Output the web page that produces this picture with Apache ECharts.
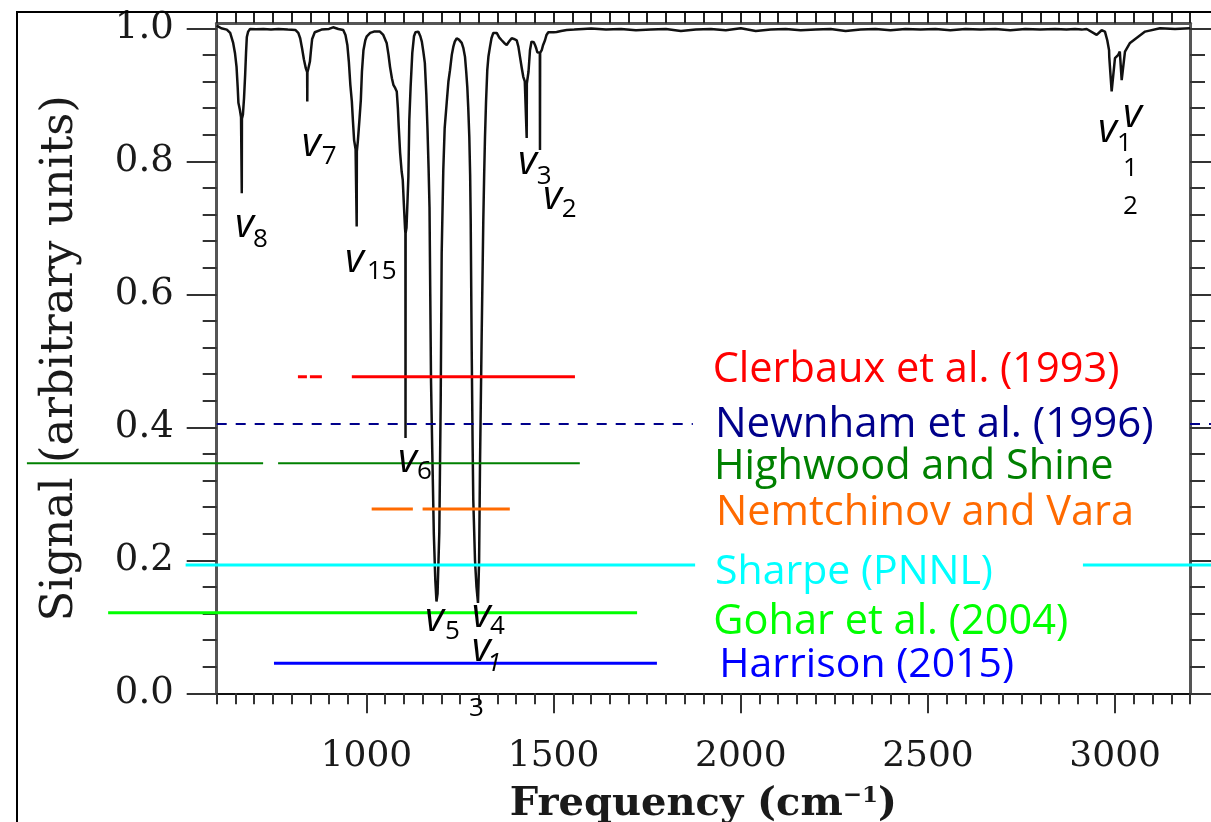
<!DOCTYPE html>
<html>
<head>
<meta charset="utf-8">
<script src="https://cdn.jsdelivr.net/npm/echarts@6/dist/echarts.min.js"></script>
<style>
html,body{margin:0;padding:0;background:#fff;}
#chart{width:1211px;height:822px;}
</style>
</head>
<body>
<div id="chart"></div>
<script>
// ---------- data ----------
const xMajorTicks = [1000, 1500, 2000, 2500, 3000];
const yMajorTicks = [0, 0.2, 0.4, 0.6, 0.8, 1.0];
const yMinorTicks = [0.04, 0.08, 0.12, 0.16, 0.24, 0.28, 0.32, 0.36, 0.44, 0.48, 0.52, 0.56,
                     0.64, 0.68, 0.72, 0.76, 0.84, 0.88, 0.92, 0.96];

// spectrum (frequency in cm^-1, signal)
const spectrumFreq = [
  600, 612, 627, 636, 644, 649, 653, 656, 658, 662, 665, 666.6, 667, 667.4, 670, 673, 676, 678.5, 680.5, 684, 689,
  705, 725, 745, 765, 790, 810, 818, 823, 828, 833, 838, 841.6, 842, 842.4, 845, 849, 852, 855, 862, 880, 900,
  911, 925, 938, 944, 949, 953, 957, 961, 964, 967, 971, 973.6, 974, 974.4, 977, 981, 985, 988, 992, 997,
  1001, 1010, 1020, 1036, 1045, 1054, 1059, 1063, 1068, 1072, 1077, 1081, 1084, 1086, 1090, 1094, 1097, 1100,
  1103, 1104.1, 1104.4, 1104.7, 1107, 1110, 1112, 1114.5, 1118, 1122.5, 1127, 1131, 1138.5, 1144, 1148, 1152,
  1156, 1160, 1163, 1166, 1168.5, 1170.5, 1172.5, 1176, 1180, 1184, 1187.1, 1190, 1194.6, 1198.4, 1201, 1205.3,
  1209, 1214.4, 1219, 1223.2, 1228, 1232, 1236, 1241, 1247, 1254.5, 1259, 1263.3, 1266.5, 1269.4, 1272, 1274.8,
  1277, 1278.5, 1281.2, 1283.5, 1285.4, 1290, 1294, 1298, 1301, 1303.3, 1307.9, 1312.2, 1314.5, 1316.7, 1319.5,
  1322.8, 1326, 1330, 1334, 1338.9, 1344, 1348, 1355, 1361.3, 1368, 1374.7, 1381, 1388, 1394, 1401.4, 1406,
  1410.2, 1415, 1419, 1423, 1427.7, 1428.1, 1428.5, 1431, 1433, 1436.9, 1441, 1444.1, 1447, 1450.3, 1453.5,
  1456.4, 1460, 1463.2, 1463.6, 1464, 1466, 1468.2, 1472, 1477, 1481, 1485.8, 1500, 1508, 1520, 1535, 1555,
  1579, 1600, 1640, 1680, 1720, 1760, 1800, 1840, 1880, 1920, 1960, 2000, 2040, 2080, 2120, 2160, 2200, 2240,
  2280, 2320, 2360, 2400, 2440, 2480, 2520, 2560, 2600, 2640, 2680, 2720, 2760, 2800, 2840, 2870, 2893,
  2910.6, 2924, 2950.7, 2964, 2972.8, 2979, 2983.8, 2984.3, 2984.8, 2990.7, 2999.6, 3008.4, 3012.5, 3013,
  3013.5, 3017.5, 3026.3, 3039.7, 3080, 3120, 3160, 3200
];
const spectrumSignal = [
  1.004, 1.000, 0.998, 0.993, 0.978, 0.962, 0.942, 0.912, 0.888, 0.877, 0.866, 0.864, 0.752, 0.864, 0.870, 0.895, 0.930, 0.965, 0.987, 0.995, 0.999,
  0.9985, 0.999, 0.998, 0.999, 0.998, 0.9975, 0.993, 0.985, 0.970, 0.953, 0.940, 0.934, 0.890, 0.934, 0.940, 0.950, 0.968, 0.984, 0.994, 0.998, 0.999,
  1.0015, 0.999, 0.9975, 0.990, 0.975, 0.950, 0.915, 0.890, 0.860, 0.832, 0.818, 0.815, 0.702, 0.815, 0.830, 0.860, 0.892, 0.935, 0.967, 0.982,
  0.988, 0.993, 0.995, 0.995, 0.990, 0.978, 0.960, 0.942, 0.925, 0.915, 0.910, 0.905, 0.880, 0.855, 0.8125, 0.785, 0.772, 0.735,
  0.700, 0.692, 0.384, 0.692, 0.700, 0.745, 0.776, 0.862, 0.912, 0.963, 0.988, 0.994, 0.995, 0.988, 0.980, 0.965,
  0.948, 0.900, 0.850, 0.790, 0.730, 0.600, 0.470, 0.360, 0.240, 0.170, 0.138, 0.150, 0.241, 0.441, 0.662, 0.787,
  0.850, 0.888, 0.920, 0.937, 0.960, 0.972, 0.980, 0.985, 0.983, 0.978, 0.970, 0.957, 0.935, 0.912, 0.880, 0.8365,
  0.780, 0.712, 0.516, 0.380, 0.291, 0.200, 0.160, 0.136, 0.200, 0.340, 0.542, 0.712, 0.780, 0.8365, 0.890,
  0.937, 0.958, 0.972, 0.985, 0.993, 0.994, 0.993, 0.986, 0.982, 0.978, 0.975, 0.980, 0.985, 0.984, 0.982, 0.972,
  0.957, 0.940, 0.927, 0.920, 0.917, 0.835, 0.917, 0.920, 0.935, 0.967, 0.980, 0.982, 0.979, 0.975, 0.970,
  0.964, 0.962, 0.963, 0.817, 0.963, 0.965, 0.967, 0.975, 0.982, 0.990, 0.994, 0.994, 0.9945, 0.996, 0.9975, 0.998,
  0.999, 0.9995, 0.998, 0.999, 0.997, 0.998, 0.999, 0.996, 0.998, 0.999, 0.997, 1.000, 0.996, 0.998, 0.999, 0.997, 0.998, 0.999,
  0.996, 0.998, 0.999, 0.997, 0.999, 0.998, 0.999, 0.997, 0.999, 0.998, 0.999, 0.997, 0.999, 0.998, 0.999, 0.998, 0.999, 0.998, 0.999,
  0.990, 0.997, 0.995, 0.982, 0.967, 0.957, 0.955, 0.905, 0.955, 0.960, 0.965, 0.967, 0.965, 0.922,
  0.965, 0.978, 0.995, 1.000, 0.999, 1.000, 0.999, 1.000
];

// spectral ranges covered by the different studies
const rangeNames  = ['Clerbaux et al. (1993)', 'Newnham et al. (1996)', 'Highwood and Shine', 'Nemtchinov and Vara',
                     'Sharpe (PNNL)', 'Gohar et al. (2004)', 'Harrison (2015)'];
const rangeColors = ['#ff0000', '#00008b', '#008000', '#ff6a00', '#00ffff', '#00ff00', '#0000ff'];
const rangeLevels = [0.476, 0.405, 0.346, 0.277, 0.193, 0.121, 0.045];
const rangeSegments = [
  [[817, 841], [849, 881], [961, 1557]],
  [[600, 1872], [3200, 3256]],
  [[93, 724], [764, 1570]],
  [[1014, 1124], [1150, 1383]],
  [[517, 1878], [2914, 3256]],
  [[310, 1723]],
  [[753, 1776]]
];

// ---------- chart ----------
const chart = echarts.init(document.getElementById('chart'), null, {renderer: 'canvas'});

const AX_FONT = 'DejaVu Serif';
const LBL_FONT = 'Open Sans';
const TXT = '#1a1a1a';

const option = {
  backgroundColor: '#fff',
  animation: false,
  grid: {left: 216.7, right: 21, top: 23.3, bottom: 128.7, containLabel: false, outerBoundsMode: 'none'},
  xAxis: [
    { // main bottom axis with labels
      type: 'value', position: 'bottom', min: 600, max: 3200,
      axisLine: {show: true, onZero: false, lineStyle: {color: '#111', width: 2}},
      axisTick: {show: true, inside: false, length: 20, customValues: xMajorTicks, lineStyle: {color: '#333', width: 2}},
      axisLabel: {show: true, customValues: xMajorTicks, margin: 45, fontFamily: AX_FONT, fontSize: 36, color: TXT,
                  formatter: v => String(v)},
      splitLine: {show: false},
      name: '{a|Frequency (cm}{b|−1}{a|)}',
      nameLocation: 'middle', nameGap: 91,
      nameTextStyle: {
        rich: {
          a: {fontFamily: AX_FONT, fontSize: 40, fontWeight: 'bold', color: TXT},
          b: {fontFamily: AX_FONT, fontSize: 23, fontWeight: 'bold', color: TXT, verticalAlign: 'top'}
        }
      }
    },
    { // minor ticks bottom
      type: 'value', position: 'bottom', min: 600, max: 3200, interval: 50,
      axisLine: {show: false, onZero: false},
      axisTick: {show: true, inside: false, length: 11, lineStyle: {color: '#333', width: 2}},
      axisLabel: {show: false}, splitLine: {show: false}
    },
    { // top frame axis
      type: 'value', position: 'top', min: 600, max: 3200, interval: 50,
      axisLine: {show: true, onZero: false, lineStyle: {color: '#555', width: 3}},
      axisTick: {show: true, inside: false, length: 11, lineStyle: {color: '#222', width: 2}},
      axisLabel: {show: false}, splitLine: {show: false}
    }
  ],
  yAxis: [
    { // main left axis
      type: 'value', position: 'left', min: 0, max: 1.0075,
      axisLine: {show: true, onZero: false, lineStyle: {color: '#555', width: 3}},
      axisTick: {show: true, inside: false, length: 30, customValues: yMajorTicks, lineStyle: {color: '#333', width: 2}},
      axisLabel: {show: true, customValues: yMajorTicks, margin: 43, fontFamily: AX_FONT, fontSize: 37, color: TXT,
                  formatter: v => Number(v).toFixed(1)},
      splitLine: {show: false},
      name: 'Signal (arbitrary units)',
      nameLocation: 'middle', nameRotate: 90, nameGap: 134,
      nameTextStyle: {fontFamily: AX_FONT, fontSize: 45, color: TXT}
    },
    { // minor ticks left
      type: 'value', position: 'left', min: 0, max: 1.0075,
      axisLine: {show: false, onZero: false},
      axisTick: {show: true, inside: false, length: 14, customValues: yMinorTicks, lineStyle: {color: '#333', width: 2}},
      axisLabel: {show: false}, splitLine: {show: false}
    },
    { // right frame axis (minor)
      type: 'value', position: 'right', min: 0, max: 1.0075,
      axisLine: {show: true, onZero: false, lineStyle: {color: '#555', width: 3}},
      axisTick: {show: true, inside: false, length: 15, customValues: yMinorTicks, lineStyle: {color: '#333', width: 2}},
      axisLabel: {show: false}, splitLine: {show: false}
    },
    { // right frame axis (major)
      type: 'value', position: 'right', min: 0, max: 1.0075,
      axisLine: {show: false, onZero: false},
      axisTick: {show: true, inside: false, length: 25, customValues: yMajorTicks, lineStyle: {color: '#333', width: 2}},
      axisLabel: {show: false}, splitLine: {show: false}
    }
  ],
  series: [{
    type: 'line',
    data: spectrumFreq.map((f, i) => [f, spectrumSignal[i]]),
    showSymbol: false,
    symbol: 'none',
    lineStyle: {color: '#111', width: 2.5},
    z: 5
  }]
};

chart.setOption(option);

// ---------- overlays placed through the chart's own scales ----------
const toPx = (f, v) => chart.convertToPixel({xAxisIndex: 0, yAxisIndex: 0}, [f, v]);

const graphics = [
  {type: 'rect', shape: {x: 17, y: 12, width: 1300, height: 900},
   style: {fill: 'none', stroke: '#000', lineWidth: 2}, z: 1}
];

rangeSegments.forEach((segs, i) => {
  segs.forEach(seg => {
    const p1 = toPx(seg[0], rangeLevels[i]);
    const p2 = toPx(seg[1], rangeLevels[i]);
    graphics.push({
      type: 'line', z: 20,
      shape: {x1: p1[0], y1: p1[1], x2: p2[0], y2: p2[1]},
      style: {
        stroke: rangeColors[i],
        lineWidth: (i === 1 || i === 2) ? 2 : 3,
        lineDash: i === 1 ? [10, 9] : null
      }
    });
  });
});

// text helper: baseline position in pixels
const K = 0.32;
function txt(x, base, text, size, color, italic, family) {
  return {
    type: 'text', x: x, y: base - K * size, z: 50,
    style: {
      text: text, fill: color, fontSize: size, fontFamily: family || LBL_FONT,
      fontStyle: italic ? 'italic' : 'normal', align: 'left', verticalAlign: 'middle'
    }
  };
}

// study labels
const labelPos = [[712.7, 383.3], [715, 438.3], [714, 480], [716, 526.7], [715, 585], [713.3, 635], [719.3, 678.3]];
const labelSize = [41.5, 42, 41.5, 41.5, 41, 41.5, 41];
rangeNames.forEach((n, i) => graphics.push(txt(labelPos[i][0], labelPos[i][1], n, labelSize[i], rangeColors[i], false)));

// mode labels  (v = italic letter, sub = subscript)
const VS = 41, SS = 26;
function mode(x, base, sub, sx, sbase) {
  graphics.push(txt(x, base, 'v', VS, '#000', true));
  if (sub) graphics.push(txt(sx, sbase, sub, SS, '#000', false));
}
mode(235, 238, '8', 253, 248);
mode(301.7, 157, '7', 321.7, 165);
mode(345, 273, '15', 367, 280);
mode(518, 175, '3', 536.7, 185);
mode(543, 210, '2', 561.7, 218);
mode(398, 473, '6', 417, 480);
mode(425, 632, '5', 445, 640);
mode(471.7, 628, '4', 490, 635);
mode(471.7, 662, '', 0, 0);
graphics.push(txt(487, 672, '1', SS, '#000', true));
graphics.push(txt(469, 717, '3', SS, '#000', false));
mode(1123, 128, '', 0, 0);
mode(1098, 143, '1', 1117, 152);
graphics.push(txt(1123, 177, '1', SS, '#000', false));
graphics.push(txt(1123, 215, '2', SS, '#000', false));

chart.setOption({graphic: graphics});
</script>
</body>
</html>
